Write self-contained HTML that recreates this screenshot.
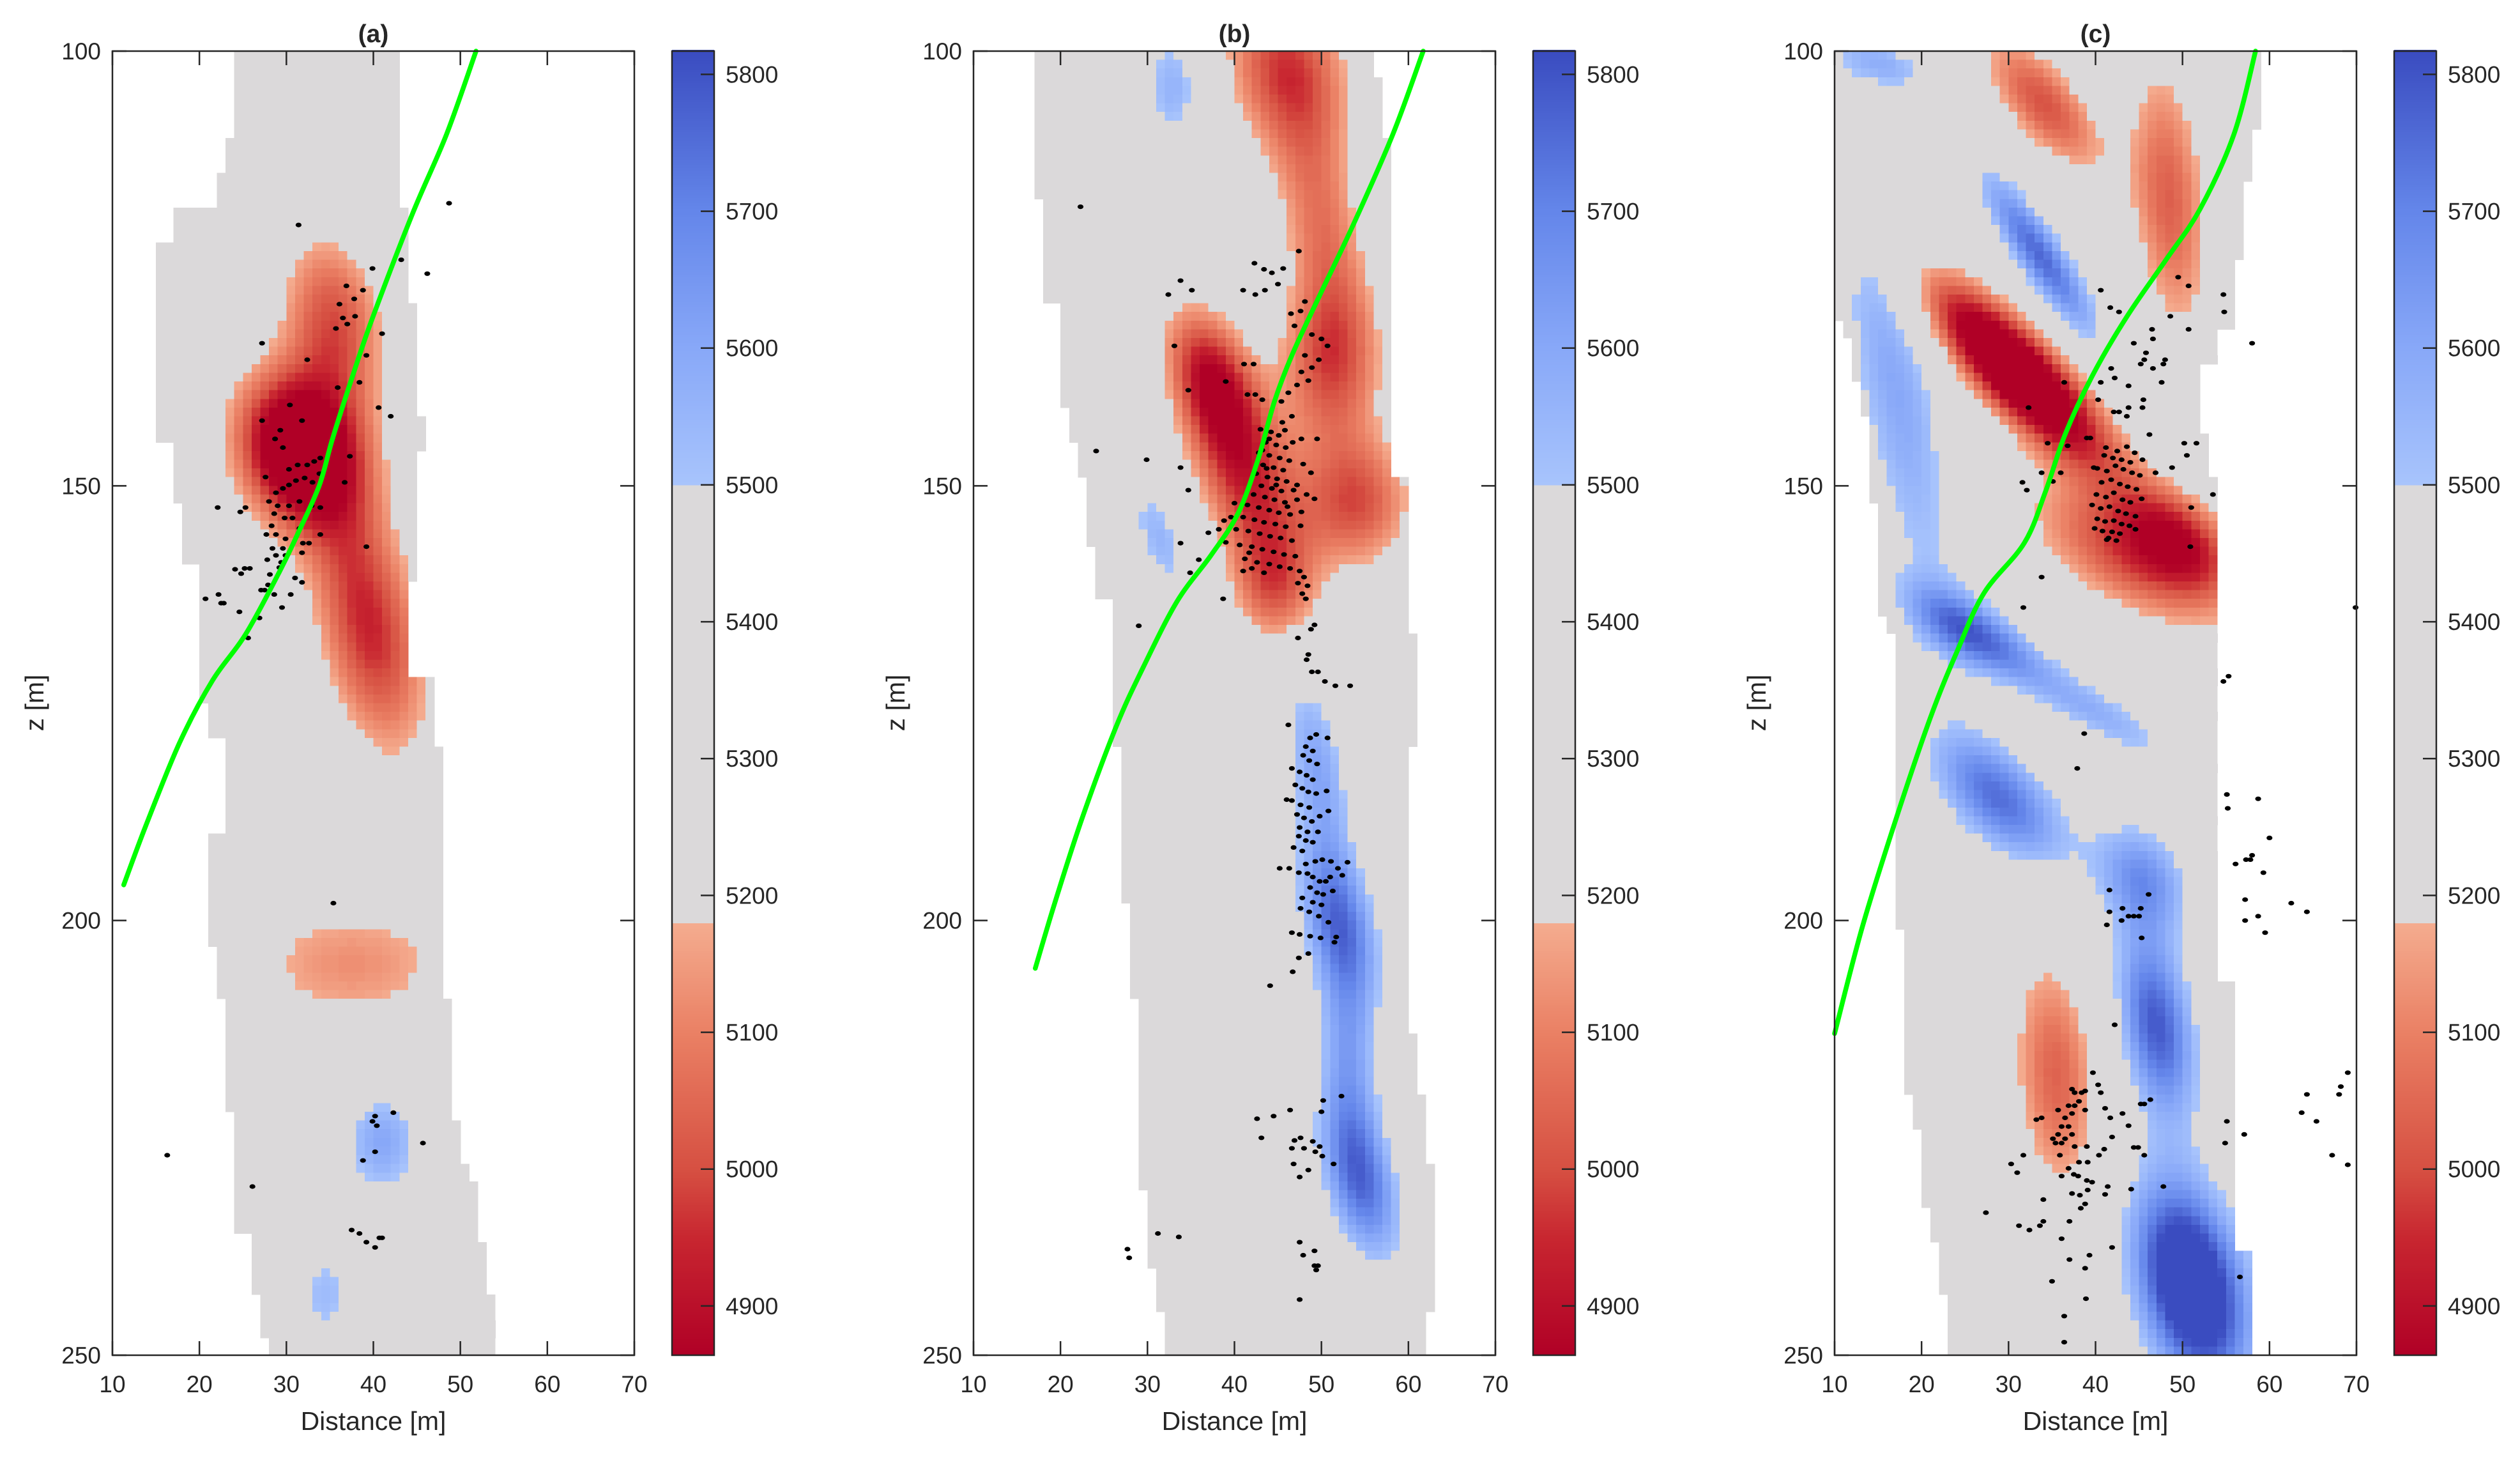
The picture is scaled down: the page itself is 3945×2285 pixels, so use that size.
<!DOCTYPE html>
<html><head><meta charset="utf-8">
<style>
html,body{margin:0;padding:0;background:#fff;}
svg{display:block;}
text{font-family:"Liberation Sans",Arial,sans-serif;fill:#262626;}
</style></head>
<body>
<svg id="fig" width="3945" height="2285" viewBox="0 0 3945 2285" xmlns="http://www.w3.org/2000/svg"></svg>
<script>
// ---------- data ----------
const xTicks = [10,20,30,40,50,60,70];
const zTicks = [100,150,200,250];
const cbTicks = [4900,5000,5100,5200,5300,5400,5500,5600,5700,5800];
const titles = ["(a)","(b)","(c)"];
const background = 5340;

// mask edges: [zStart, x]
const maskALeft = [[100,24.5],[110.5,23.5],[114.4,22.5],[117.7,17.5],[121.6,15.5],[144.6,17.5],[152.5,18.5],[159.4,20.5],[174.8,21.5],[178.6,23.5],[189.6,21.5],[203.5,22.5],[209.3,23.5],[221.6,24.5],[236.1,26.5],[243,27.5],[248,28.5]];
const maskARight = [[100,43.4],[117.7,44.4],[129.5,45.4],[141.7,46.4],[146.5,45.4],[161.4,44.4],[171.7,46.8],[179.6,48.4],[209.3,49.4],[222.8,50.4],[227.6,51.4],[229.7,52.4],[236.6,53.4],[242.6,54.4]];
const maskBLeft = [[100,17.5],[117.5,18.5],[128.6,20.5],[140.6,21.5],[145.5,22.5],[148.6,23.5],[156.6,24.5],[162.6,26.5],[179.6,27.5],[198.5,28.5],[208.6,29.5],[230.7,30.5],[240.5,31.5],[244.8,32.5]];
const maskBRight = [[100,56.4],[102.9,57.4],[109.6,58.4],[148.9,60.4],[166.6,61.4],[180,60.4],[212.7,61.4],[219.9,62.4],[228.5,63.4],[244.8,62.4]];
const maskCLeft = [[100,10],[122.5,10.5],[130.7,11.4],[132.6,12.4],[138.4,13.5],[141.7,14.5],[151.8,15.4],[164.7,16.5],[166.6,17.5],[200.7,18.5],[219.7,19.5],[223.7,20.5],[232.6,21.5],[236.6,22.5],[242.6,23.5]];
const maskCRight = [[100,59.4],[108.6,58.4],[114.9,57.4],[124.4,56.4],[131.6,54.4],[136.4,52.4],[143.6,53.4],[148.9,54.4],[207.4,56.4],[237.6,58.4]];

// velocity anomalies: [cx, cz, amplitude, sigmaAcross, sigmaAlong, tiltDeg]
const anomA = [[31.5,146,-650,5,6.5,20],[35.5,131,-330,4.2,7.5,10],[39.5,166,-400,4.3,11,12],[37.5,205,-210,10,6,0],[41,225.5,260,3.4,4.6,0],[34.5,243,190,3.2,4.5,-15]];
const anomB = [[46,102,-360,5,7.5,15],[50,120,-240,3.5,9,10],[51,136,-330,4.2,7,0],[54,152,-330,4.6,5.5,0],[37.5,138,-440,3.4,6.5,20],[41.5,150,-340,4,7.5,20],[44.5,162,-280,3.5,5,10],[33,104,230,2.5,5,0],[31.5,156,220,2.2,5,20],[49.5,182,260,2.5,8,10],[52,200,380,3,7,15],[53,215,250,2.5,8,5],[54.5,230,400,3,7,15]];
const anomC = [[15.5,101.5,220,2,4.5,70],[17,138,260,3.6,20,10.6],[33.6,123.5,420,2,8.6,34],[26,167,380,2.6,6.2,60],[40,176,230,2.1,8,60],[29,186,400,3.6,7.2,45],[45.5,195,300,3.6,5,30],[47,212,450,3.1,8,10],[51,242,650,4.5,9,15],[34,106,-330,3,7,40],[48.5,117,-300,3.2,12,5],[31,137,-700,3.2,10.5,45],[44,158,-340,4.4,9.5,60],[50,156,-300,3.3,5.5,50],[35.5,218,-300,3.6,10.5,5]];

// fault trace
const faultAX = [11.3,13.8,17.7,21.5,25.3,29.2,31.5,33.8,35.3,37.6,39.9,44.5,48.4,51.8];
const faultAZ = [195.9,189.2,179.6,172.4,167.1,159.9,155.1,149.9,144.6,137.4,130.7,118.7,109.6,100];
const faultBX = [17.1,19.4,22.5,26.4,29.5,33.4,37.3,40.4,42.7,44.6,46.6,49.7,53.6,58.2,61.7];
const faultBZ = [205.5,197.8,188.2,177.7,170.9,163.3,158.0,153.2,147.0,140.3,135.0,128.3,120.1,109.6,100];
const faultCX = [10,13.2,17.1,21,24.1,27.2,31.8,34.2,36.5,39.6,43.5,48.1,52,55.9,58.4];
const faultCZ = [213,200.7,188.2,176.7,169,162.3,156.6,150.8,144.1,137.4,130.7,124,118.2,109.6,100];

// events [x, z, x, z, ...]
const eventsA = [31.4,120,48.7,117.5,46.2,125.6,43.2,124,39.9,125,38.8,127.5,37.8,128.5,36.9,127,36.1,129.1,36.5,130.7,35.7,131.9,37,131.4,37.9,130.5,27.2,133.6,32.4,135.5,39.2,135,41,132.5,38.4,138.1,35.9,138.7,40.6,141,42,142,31.8,142.5,30.4,140.7,27.2,142.5,29.3,143.6,28.7,144.6,29.6,145.6,37.3,146.6,33.9,146.8,33.2,147.2,32.4,147.6,31.3,147.6,30.3,148.1,27.6,149,36.7,149.6,33.8,148.6,33,149.6,32.1,149.1,31.1,149.4,30.3,149.9,29.6,150.3,28.8,150.8,28,151.8,29,152.3,30.3,152.3,31.5,151.8,32.9,152.3,33.9,152.5,25.3,152.5,24.7,153,22.1,152.5,28.6,153.2,29.8,153.7,30.7,153.7,28.3,154.6,31.5,154.9,27.7,155.6,28.8,155.6,29.9,156.1,33.9,155.6,32.6,156.6,31.9,156.6,28.4,157.2,29.6,157.2,29.9,158,28.8,158,27.8,158.5,29.4,158.8,31.8,157.7,39.2,157,25.8,159.5,25.2,159.5,24.8,160.1,24.1,159.6,28.1,160.2,29.2,159.4,31,160.6,31.8,161.1,27.9,161.4,27.1,162,27.5,162,28.6,162.5,30.5,162.5,22.2,162.5,20.7,163,22.5,163.5,22.8,163.5,29.5,164,24.6,164.5,26.9,165.2,25.6,167.5,35.4,198,16.3,227,26.1,230.6,45.7,225.6,42.3,222.1,40.2,222.5,39.9,223.1,40.4,223.6,40.2,226.6,38.8,227.6,37.5,235.6,38.4,236,39.2,237,40.2,237.6,40.7,236.5,41,236.5];
const eventsB = [22.3,117.9,33.8,126.4,32.4,128,35.1,127.5,42.3,124.4,43.4,125.1,44.3,125.5,45.6,125,41,127.5,42.4,128,43.5,127.5,45,126.8,47.4,123,33.1,133.9,34.7,139,39,138,41.1,136,42.2,136,41.5,139.5,42.4,139.5,43.2,140.1,24.1,146,29.9,147,33.8,147.9,34.7,150.5,33.8,156.6,35.9,158.5,34.9,160,29,166.1,38.7,163,46.5,130.2,47.6,129.9,48.1,128.8,46.9,131.6,48.9,132.6,50,133.1,50.7,133.9,49.7,135.5,48.1,135,47.7,136.9,48.9,136.4,48.5,137.9,47.2,138.4,46.2,139.3,45.4,140.3,46.6,142,45.8,143.6,47.7,144.6,49.5,144.6,47.9,147.5,47.2,149.9,48.3,151,47.7,153,47.6,154.6,
43,143.5,44.2,143.8,45.1,144.2,43.6,145,44.8,145.3,45.9,145.6,42.8,146.2,44,146.5,45.2,146.8,46.3,147.1,43.3,147.6,44.5,147.9,45.6,148.2,42.5,148.6,43.8,149,44.9,149.2,46,149.5,43.1,150,44.3,150.3,45.4,150.6,42.2,151,43.5,151.3,44.6,151.6,45.8,151.9,41.5,152.2,42.8,152.5,44,152.8,45.1,153.1,46.4,153.3,41,153.6,42.3,153.9,43.4,154.2,44.7,154.4,45.9,154.7,40.2,155,41.6,155.2,42.9,155.5,44.1,155.8,45.3,156,46.6,156.3,39,156.5,40.6,156.8,42,157,43.2,157.3,44.5,157.6,45.7,157.9,47,158.1,41.2,158.4,42.6,158.8,44,159,45.2,159.3,46.4,159.5,47.5,159.8,48,160.5,47.3,161.2,48.4,161.5,47.8,162.4,48.2,163,37,155.4,38.2,155,38.8,154,39.6,153.6,40,152,41.7,157.7,43.7,148,44.8,149.9,46.8,150.5,47.2,151.6,43.2,145.9,44,144.6,45.5,142.7,46.7,145,48.8,148.5,49.2,151.5,46.1,152.4,42,159.5,41,159.8,43.4,160,
48.8,166.5,49.2,166,47.3,167.5,48.5,169.4,48.3,170,48.9,171.4,49.6,171.4,50.4,172.5,51.6,173,53.3,173,46.2,177.5,48.7,179,49.4,178.6,50.7,179,48.2,180,49,180.5,47.9,181,48.6,181.6,49.5,182,46.6,182.5,47.5,182.9,48.3,183.3,49,183.8,47,184.4,47.8,184.8,48.5,185.2,49.4,185.4,50.6,185.1,46,186.1,46.6,186.2,47.6,186.7,48.6,187,47.2,187.8,48,188.2,48.9,188.6,49.8,188,50.8,187.4,47.5,189.3,48.4,189.8,49.6,189.8,47.4,190.3,48.2,190.8,49,191,46.8,191.6,47.8,192,48.2,193.5,49.3,193.2,50.1,193,51.1,193.2,47.4,194.5,48.4,194.6,49,195,49.8,195.5,50.5,195.5,51,195,52.4,194.8,53,193.3,51.9,194,45.2,194,46.3,194,48.7,196.2,49.5,196.8,50.2,197,51.3,196.6,47.8,197.4,49,197.9,50,198.2,48.6,199,49.7,199.5,50.8,200.2,51.7,201.9,47.5,201.6,48.7,201.8,49.9,202,51.5,202.5,48.5,203.8,46.6,201.4,47.6,198.6,46.7,205.9,47.4,204.3,44.1,207.5,
42.6,222.8,44.5,222.5,46.4,221.8,50.2,220.7,52.3,220.2,50,222,43.1,225,46.9,225.3,47.6,225,49,225.4,46.6,226.2,48,226.2,49.3,226.6,49.8,226,50.1,227.1,51.4,228,46.8,228,47.5,229.5,48.5,228.7,31.2,236,33.6,236.4,27.7,237.8,27.9,238.8,47.5,237,47.9,238.5,49.2,238,49.2,239.7,49.4,240.2,49.6,239.7,47.5,243.6];
const eventsC = [40.6,127.5,41.7,129.5,42.7,130,49.5,126,50.7,127,48.6,130.5,50.7,132,54.7,128,54.8,130,58,133.6,46.5,132,46.6,133.1,44.4,133.6,45.8,134.7,45.6,135.5,45.2,136,46.6,136.5,47.8,136,48,135.5,47.6,138.1,41.8,136.5,42.2,137.6,40.6,138.1,43.8,138.5,45.5,140.1,45.4,141,40.3,140.1,43.8,141,43.6,142,42.1,141.5,42.7,141.5,46.2,144.1,50.2,145.1,51.6,145.1,50.5,146.5,48.8,147.9,46.9,148.5,53.5,151,51,152.5,50.9,157,69.9,164,55.3,171.9,54.7,172.5,38.7,178.5,37.9,182.5,55.1,185.5,55.2,187.1,58.7,186,60,190.5,58,192.5,57.8,193,57.3,193,56.1,193.5,59.3,194.5,57.2,197.6,57.2,200,58.7,199.5,59.5,201.4,62.5,198,64.3,199,
32.3,141,34.5,145.1,36.8,145.4,36.4,138.1,31.6,149.6,32.1,150.5,33.8,148.5,36,148.5,35.1,149.5,33.8,160.5,31.7,164,39,144.5,39.4,144.5,39.8,147.9,44.6,155,41.5,156,
41,146.5,42.5,146,43.6,145.5,44.5,146.2,45.4,147,40.2,148,41.3,148.3,42.3,147.7,43.2,148.1,44.2,148.5,45.1,148.8,40.7,149.6,41.8,149.3,42.8,149.8,43.7,150.1,44.7,150.4,40.1,151,41.2,151.3,42.1,150.8,43.1,151.6,44,151.9,45.3,151.5,40.6,152.6,41.6,152.4,42.6,152.9,43.5,153.2,40.2,153.8,41.1,154.1,42.1,154,43,154.4,43.9,154.6,40.8,155.2,41.9,155.3,42.8,155.5,41.3,156.2,42.4,156.3,39.6,152.2,39.9,154.9,44.6,153.5,41.2,145.6,42,146.8,43,147,44,147.3,
39.7,217.5,40.6,219.8,40.3,218.9,38.4,219.8,38.8,219.6,37.6,219.8,37.3,219.4,38.1,220.8,38.8,221.8,36.9,221.3,36.5,222.7,37.3,222.2,36.1,223.7,36.9,223.7,35.7,224.6,36.5,225.1,35.1,225.1,37.3,224.6,36.1,225.6,33.2,222.9,33.8,222.7,35.7,221.8,37.6,221.3,41.1,221.6,41.7,222.7,43.1,222.2,43.8,223.6,41.9,224.9,41,226.3,40.4,227,39,226,37.6,226,35.9,227,35.4,225.6,31.7,227,30.3,228,31,229,38.1,227.8,39.1,227.8,36.9,228.5,37.5,229.2,36.1,229.4,38,229.4,39,229.9,39.6,230.1,41.4,230.6,41.1,231.5,39.1,231,37.3,231.4,38.2,231.6,34,232.1,38.8,232.6,38.3,233.1,44.1,230.9,44.4,226.1,44.9,226.1,45.6,227,45.2,221.1,45.6,221.1,46.3,220.6,47.8,230.6,42.2,212,41.6,196.5,41.6,199,43.1,198.6,43.8,199.5,43,200,44.4,199.5,45.2,198.6,45,199.5,46.1,197,41.3,200.5,45.3,202,
69,217.5,68.2,219.1,68,220,64.3,220,63.7,222.1,65.4,223.1,57.1,224.6,55.1,223.1,54.9,225.6,67.2,227,69,228.1,
27.4,233.6,31.2,235.1,32.4,235.6,33.6,235.1,34,234.6,37,234.6,36.1,236.6,41.9,237.6,39.3,238.5,37,239,38.8,240,35,241.5,38.9,243.5,36.4,245.5,36.4,248.5,56.6,241];

// ---------- layout ----------
const NS = "http://www.w3.org/2000/svg";
const svg = document.getElementById("fig");
const panelLeft = [176, 1524, 2872];
const PW = 817, PT = 80, PH = 2041;
const CBW = 66, CBOFF = 876;
const vMin = 4864, vMax = 5817;
function mk(tag, attrs, parent){const e=document.createElementNS(NS,tag);for(const k in attrs)e.setAttribute(k,attrs[k]);(parent||svg).appendChild(e);return e;}
function px(L,x){return L+(x-10)/60*PW;}
function py(z){return PT+(z-100)/150*PH;}
function cbY(v){return PT + (vMax - v)/(vMax - vMin)*PH;}

const redStops=[[4864,[176,0,38]],[4950,[200,38,48]],[5000,[214,80,66]],[5100,[234,128,100]],[5180,[244,172,143]]];
const blueStops=[[5500,[168,196,252]],[5600,[136,168,248]],[5700,[100,134,234]],[5817,[58,76,192]]];
function interp(st,v){
  if(v<=st[0][0])return st[0][1];
  for(let i=1;i<st.length;i++){if(v<=st[i][0]){const t=(v-st[i-1][0])/(st[i][0]-st[i-1][0]);return st[i-1][1].map((c,k)=>Math.round(c+(st[i][1][k]-c)*t));}}
  return st[st.length-1][1];
}
function cmap(v){
  let c;
  if(v<5180)c=interp(redStops,v);else if(v<5500)c=[219,217,218];else c=interp(blueStops,v);
  return "rgb("+c.join(",")+")";
}
function edge(arr,z){let x=arr[0][1];for(const r of arr){if(z>=r[0])x=r[1];}return x;}
function field(anoms,x,z){
  let v=background;
  for(const a of anoms){
    const th=a[5]*Math.PI/180, dx=x-a[0], dz=z-a[1];
    const along=dx*Math.sin(th)+dz*Math.cos(th), across=dx*Math.cos(th)-dz*Math.sin(th);
    const d2=(across/a[3])**2+(along/a[4])**2;
    v+=a[2]*Math.exp(-0.5*d2);
  }
  return Math.max(vMin,Math.min(vMax,v));
}
function smoothPath(pts){
  let d="M"+pts[0][0].toFixed(1)+","+pts[0][1].toFixed(1);
  for(let i=0;i<pts.length-1;i++){
    const p0=pts[Math.max(0,i-1)],p1=pts[i],p2=pts[i+1],p3=pts[Math.min(pts.length-1,i+2)];
    const c1=[p1[0]+(p2[0]-p0[0])/6,p1[1]+(p2[1]-p0[1])/6];
    const c2=[p2[0]-(p3[0]-p1[0])/6,p2[1]-(p3[1]-p1[1])/6];
    d+="C"+c1[0].toFixed(1)+","+c1[1].toFixed(1)+" "+c2[0].toFixed(1)+","+c2[1].toFixed(1)+" "+p2[0].toFixed(1)+","+p2[1].toFixed(1);
  }
  return d;
}

const panels=[
 {L:panelLeft[0],ml:maskALeft,mr:maskARight,an:anomA,fx:faultAX,fz:faultAZ,ev:eventsA,id:"a"},
 {L:panelLeft[1],ml:maskBLeft,mr:maskBRight,an:anomB,fx:faultBX,fz:faultBZ,ev:eventsB,id:"b"},
 {L:panelLeft[2],ml:maskCLeft,mr:maskCRight,an:anomC,fx:faultCX,fz:faultCZ,ev:eventsC,id:"c"}
];

panels.forEach((p,pi)=>{
  const L=p.L;
  const g=mk("g",{});
  
  
  const hm=mk("g",{"shape-rendering":"crispEdges"},g);
  
  
  for(let iz=0;iz<150;iz++){
    const z=100+iz+0.5, l=edge(p.ml,z), r=edge(p.mr,z);
    let runStart=null, runCol=null;
    const flush=(endX)=>{
      if(runStart===null)return;
      const rc=mk("rect",{x:px(L,runStart).toFixed(1),y:py(100+iz).toFixed(1),width:(px(L,endX)-px(L,runStart)+0.6).toFixed(1),height:(PH/150+0.6).toFixed(1),fill:runCol},hm);
      
      
      runStart=null;
    };
    for(let ix=0;ix<60;ix++){
      const x=10+ix+0.5;
      if(x<l||x>r){flush(10+ix);continue;}
      const v=Math.round(field(p.an,x,z)/8)*8;
      const col=cmap(v);
      if(runStart!==null&&col!==runCol)flush(10+ix);
      if(runStart===null){runStart=10+ix;runCol=col;}
    }
    flush(70);
  }
  const eg=mk("g",{},g);
  
  
  for(let i=0;i<p.ev.length;i+=2){
    const e=mk("ellipse",{cx:px(L,p.ev[i]).toFixed(1),cy:py(p.ev[i+1]).toFixed(1),rx:4.6,ry:3.6,fill:"#000"},eg);
    
    
  }
  const pts=p.fx.map((x,i)=>[px(L,x),py(p.fz[i])]);
  const fl=mk("path",{d:smoothPath(pts),fill:"none",stroke:"#00ff00","stroke-width":7.5,"stroke-linejoin":"round","stroke-linecap":"round"},g);
  
  
  const box=mk("rect",{x:L,y:PT,width:PW,height:PH,fill:"none",stroke:"#262626","stroke-width":2.5},g);
  
  
  xTicks.forEach(t=>{
    const X=px(L,t);
    const t1=mk("line",{x1:X,x2:X,y1:PT,y2:PT+22,stroke:"#262626","stroke-width":2.5},g);
    
    
    const t2=mk("line",{x1:X,x2:X,y1:PT+PH,y2:PT+PH-22,stroke:"#262626","stroke-width":2.5},g);
    
    
    const tl=mk("text",{x:X,y:PT+PH+58,"font-size":37,"text-anchor":"middle"},g);
    tl.textContent=t;
    
    
  });
  zTicks.forEach(t=>{
    const Y=py(t);
    const t1=mk("line",{x1:L,x2:L+22,y1:Y,y2:Y,stroke:"#262626","stroke-width":2.5},g);
    
    
    const t2=mk("line",{x1:L+PW,x2:L+PW-22,y1:Y,y2:Y,stroke:"#262626","stroke-width":2.5},g);
    
    
    const tl=mk("text",{x:L-18,y:Y+13,"font-size":37,"text-anchor":"end"},g);
    tl.textContent=t;
    
    
  });
  const xt=mk("text",{x:L+PW/2,y:2238,"font-size":41,"text-anchor":"middle"},g);
  xt.textContent="Distance [m]";
  
  
  const yt=mk("text",{x:0,y:0,"font-size":41,"text-anchor":"middle",transform:"translate("+(L-108)+",1100) rotate(-90)"},g);
  yt.textContent="z [m]";
  
  
  const tt=mk("text",{x:L+PW/2,y:66,"font-size":39,"font-weight":"bold","text-anchor":"middle"},g);
  tt.textContent=titles[pi];
  
  
  const CX=L+CBOFF;
  const cb=mk("g",{"shape-rendering":"crispEdges"},g);
  
  
  for(let v=vMin;v<vMax;v+=2){
    const y1=cbY(v+2), y2=cbY(v);
    const r=mk("rect",{x:CX,y:y1.toFixed(1),width:CBW,height:(y2-y1+0.8).toFixed(1),fill:cmap(v+1)},cb);
    
    
  }
  const cbb=mk("rect",{x:CX,y:PT,width:CBW,height:PH,fill:"none",stroke:"#262626","stroke-width":2.5},g);
  
  
  cbTicks.forEach(t=>{
    const Y=cbY(t);
    const tk=mk("line",{x1:CX+CBW-21,x2:CX+CBW,y1:Y,y2:Y,stroke:"#262626","stroke-width":2.5},g);
    
    
    const tl=mk("text",{x:CX+CBW+18,y:Y+13,"font-size":37},g);
    tl.textContent=t;
    
    
  });
});
</script>
</body></html>
